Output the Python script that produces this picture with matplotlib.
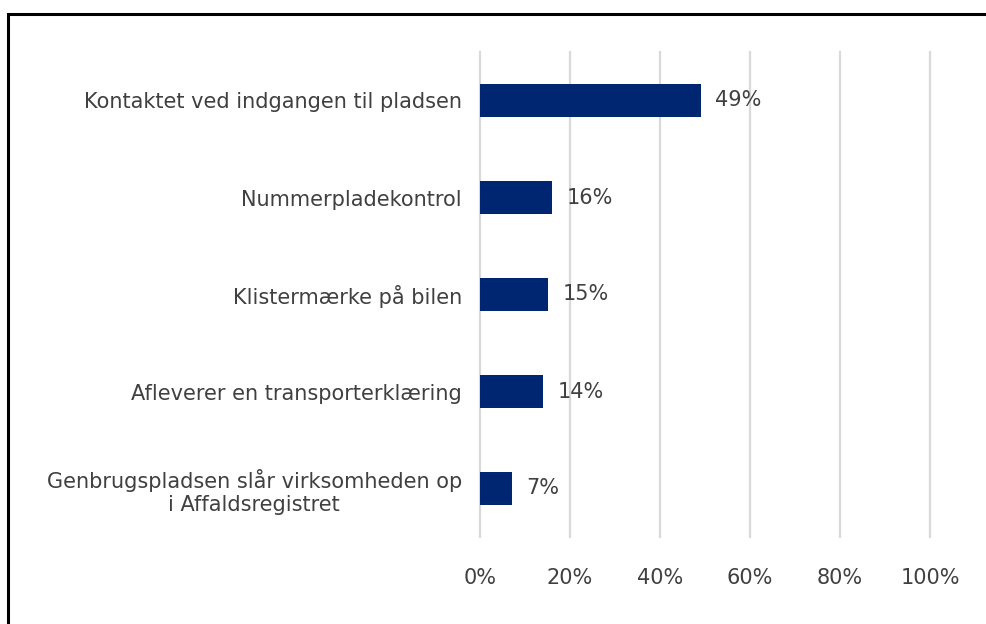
import matplotlib.pyplot as plt
from matplotlib.patches import Rectangle

categories = [
    "Kontaktet ved indgangen til pladsen",
    "Nummerpladekontrol",
    "Klistermærke på bilen",
    "Afleverer en transporterklæring",
    "Genbrugspladsen slår virksomheden op\ni Affaldsregistret",
]
values = [49, 16, 15, 14, 7]
x_ticks = [0, 20, 40, 60, 80, 100]

bar_color = "#002672"
text_color = "#404040"
font_size = 15

plt.rcParams['font.family'] = ['DejaVu Sans']

fig = plt.figure(figsize=(9.86, 6.24), dpi=100)
ax = fig.add_axes([480 / 986, 1 - 537 / 624, 450 / 986, (537 - 52) / 624])

y = list(range(len(categories)))
ax.barh(y, values, height=0.35, color=bar_color, zorder=3)
for yi, v in zip(y, values):
    ax.text(v + 3.3, yi, f"{v}%", va='center', ha='left', fontsize=font_size, color=text_color)

ax.set_xlim(0, 100)
ax.set_ylim(len(categories) - 0.5, -0.5)
ax.set_xticks(x_ticks)
ax.set_xticklabels([f"{t}%" for t in x_ticks])
ax.set_yticks(y)
ax.set_yticklabels(categories, linespacing=1.2)
for lbl in ax.get_yticklabels():
    lbl.set_multialignment('center')

ax.tick_params(axis='both', length=0, labelsize=font_size, labelcolor=text_color)
ax.tick_params(axis='x', pad=22)
ax.tick_params(axis='y', pad=13)
ax.grid(axis='x', color='#d9d9d9', linewidth=1.6, zorder=0)
for gl in ax.get_xgridlines():
    gl.set_clip_on(False)
ax.set_axisbelow(True)
for s in ax.spines.values():
    s.set_visible(False)

# black frame around the chart area
fig.patches.append(Rectangle((8 / 986, -0.1), 1.2, 1 - 14 / 624 + 0.1,
                             transform=fig.transFigure, fill=False,
                             edgecolor='black', linewidth=2.2))

fig.savefig("out.png", dpi=100)
